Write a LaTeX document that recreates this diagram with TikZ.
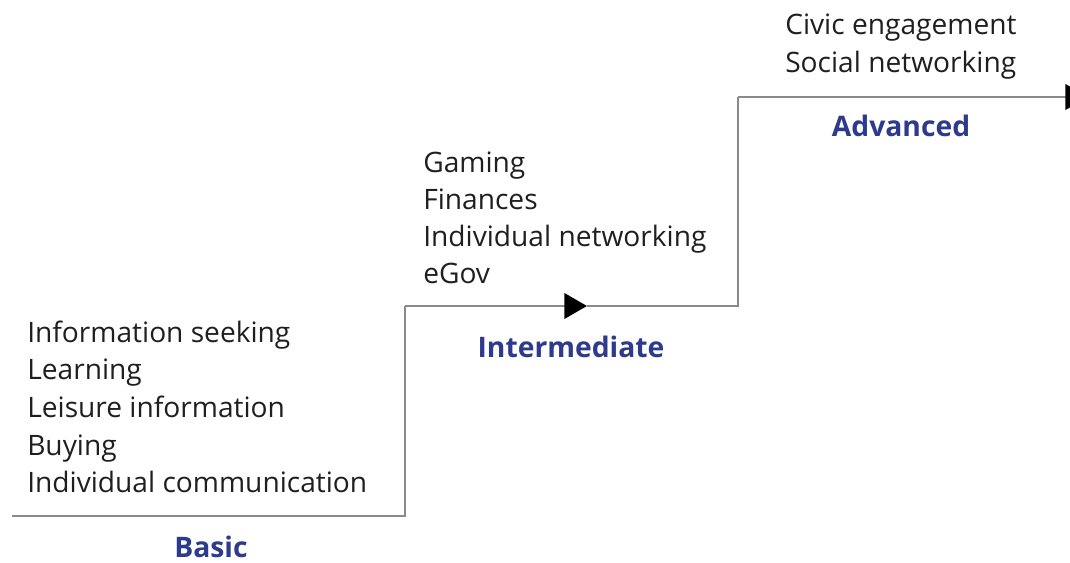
\documentclass[tikz,border=0pt]{standalone}
\usepackage{fontspec}
\setmainfont{Open Sans}
\usetikzlibrary{arrows.meta}

\definecolor{stairgray}{HTML}{8A8A8A}
\definecolor{levelblue}{HTML}{2E3A8C}

\tikzset{
  stair/.style={draw=stairgray, line width=2.2pt},
  tip/.style={-{Triangle[length=17pt, width=19pt, color=black]}},
  item/.style={anchor=base west, inner sep=0pt, text=black!88,
    font=\fontsize{21.1}{24}\selectfont},
  level/.style={anchor=base, inner sep=0pt, text=levelblue,
    font=\bfseries\fontsize{21.2}{24}\selectfont},
}

\begin{document}
\begin{tikzpicture}[x=0.75pt, y=-0.75pt]
  \path[use as bounding box, clip] (0,0) rectangle (1070,563);

  % corners of the staircase
  \coordinate (b0) at (12,516);
  \coordinate (b1) at (405,516);
  \coordinate (i0) at (405,306);
  \coordinate (imid) at (587,306);
  \coordinate (i1) at (738,306);
  \coordinate (a0) at (738,97);
  \coordinate (a1) at (1088,97);

  \draw[stair] (b0) -- (b1) -- (i0);
  \draw[stair, tip] (i0) -- (imid);
  \draw[stair] (imid) -- (i1) -- (a0);
  \draw[stair, tip] (a0) -- (a1);

  % activities on each step
  \foreach \txt [count=\i] in {Information seeking, Learning,
      Leisure information, Buying, Individual communication}
    \node[item] (basic\i) at (27, 342+37.7*\i-37.7) {\txt};

  \foreach \txt [count=\i] in {Gaming, Finances,
      Individual networking, eGov}
    \node[item] (inter\i) at (423, 172+37.3*\i-37.3) {\txt};

  \node[item] (adv1) at (785,35) {Civic engagement};
  \node[item] (adv2) at (785,73) {Social networking};

  % level names under the steps
  \node[level] (basic) at (211,557) {Basic};
  \node[level] (inter) at (571,357) {Intermediate};
  \node[level] (adv) at (901,137) {Advanced};
\end{tikzpicture}
\end{document}
